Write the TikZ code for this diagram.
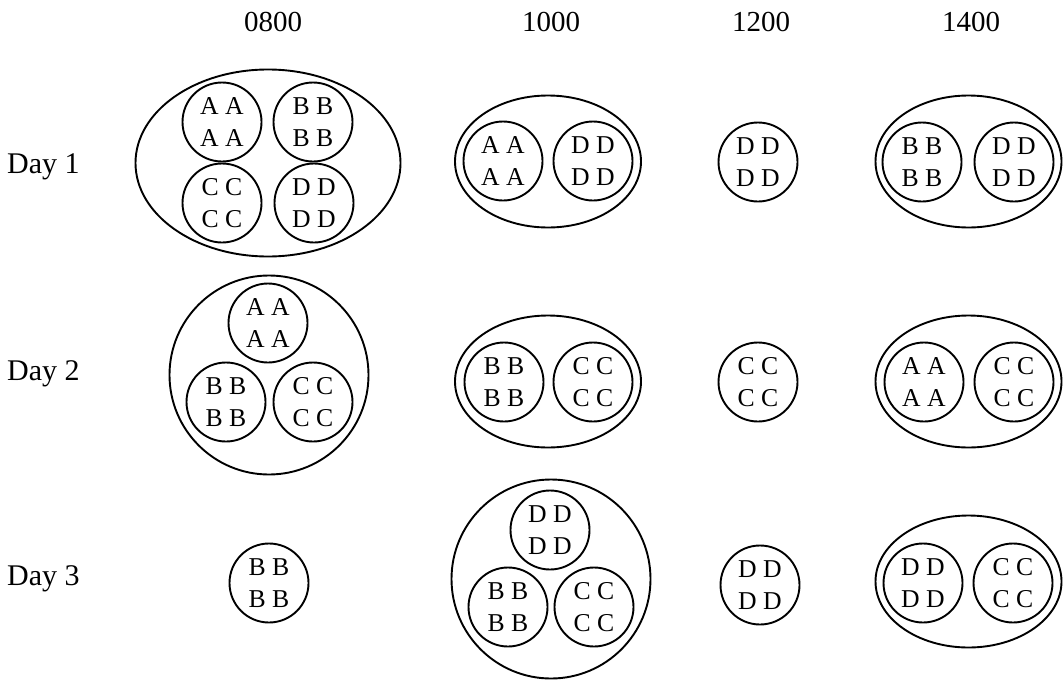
\documentclass[tikz,border=0pt]{standalone}
\usepackage{fontspec}
\setmainfont{Liberation Serif}
\usetikzlibrary{shapes.geometric}
\tikzset{
  mem/.style={draw, circle, line width=1.9pt, minimum size=79pt, inner sep=0pt, align=center, font=\fontsize{25.7}{32}\selectfont},
  grp/.style={draw, ellipse, line width=1.9pt, inner sep=0pt},
  pairgrp/.style={grp, minimum width=186pt, minimum height=132pt},
  ring/.style={draw, circle, line width=1.9pt, minimum size=199pt, inner sep=0pt},
  hdr/.style={font=\fontsize{29}{34}\selectfont},
  daylbl/.style={anchor=base west, inner sep=0pt, font=\fontsize{30}{36}\selectfont}
}
\begin{document}
\begin{tikzpicture}[x=1pt,y=-1pt]
\useasboundingbox (0,0) rectangle (1064,680);
% headers
\node[hdr] (h1) at (273,22) {0800};
\node[hdr] (h2) at (551,22) {1000};
\node[hdr] (h3) at (761,22) {1200};
\node[hdr] (h4) at (971,22) {1400};
% row labels
\node[daylbl] (r1) at (7,173) {Day 1};
\node[daylbl] (r2) at (7,380) {Day 2};
\node[daylbl] (r3) at (7,585) {Day 3};
% Day 1
\node[grp, minimum width=265pt, minimum height=187pt] (g11) at (268,163) {};
\node[mem] (a11) at (222,122) {A A\\A A};
\node[mem] (b11) at (313,122) {B B\\B B};
\node[mem] (c11) at (222,203) {C C\\C C};
\node[mem] (d11) at (314,203) {D D\\D D};
\node[pairgrp] (g12) at (548,161.5) {};
\node[mem] (a12) at (503,161) {A A\\A A};
\node[mem] (d12) at (593,161) {D D\\D D};
\node[mem] (d13) at (758,162) {D D\\D D};
\node[pairgrp] (g14) at (968.5,161.5) {};
\node[mem] (b14) at (922,162) {B B\\B B};
\node[mem] (d14) at (1014,162) {D D\\D D};
% Day 2
\node[ring] (g21) at (269,375) {};
\node[mem] (a21) at (268,323) {A A\\A A};
\node[mem] (b21) at (226,402) {B B\\B B};
\node[mem] (c21) at (313,402) {C C\\C C};
\node[pairgrp] (g22) at (548,381.5) {};
\node[mem] (b22) at (504,382) {B B\\B B};
\node[mem] (c22) at (593,382) {C C\\C C};
\node[mem] (c23) at (758,382) {C C\\C C};
\node[pairgrp] (g24) at (968.5,381.5) {};
\node[mem] (a24) at (924,382) {A A\\A A};
\node[mem] (c24) at (1014,382) {C C\\C C};
% Day 3
\node[mem] (b31) at (269,583) {B B\\B B};
\node[ring] (g32) at (551,579) {};
\node[mem] (d32) at (550,530) {D D\\D D};
\node[mem] (b32) at (508,607) {B B\\B B};
\node[mem] (c32) at (594,607) {C C\\C C};
\node[mem] (d33) at (760,585) {D D\\D D};
\node[pairgrp] (g34) at (968.5,581.5) {};
\node[mem] (d34) at (923,583) {D D\\D D};
\node[mem] (c34) at (1013,583) {C C\\C C};
\end{tikzpicture}
\end{document}
